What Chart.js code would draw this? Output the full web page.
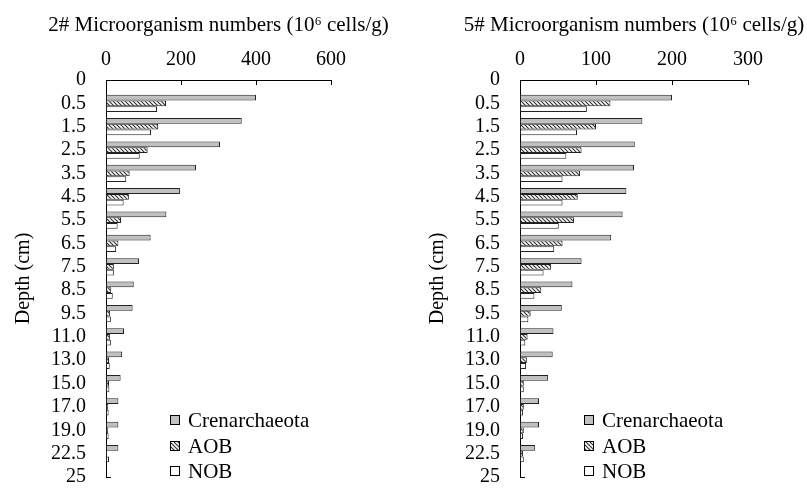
<!DOCTYPE html>
<html>
<head>
<meta charset="utf-8">
<script src="https://cdn.jsdelivr.net/npm/chart.js@4/dist/chart.umd.min.js"></script>
<style>
  body { margin: 0; background: #fff; }
  .box { position: absolute; top: 0; height: 488px; }
</style>
</head>
<body>
<div class="box" style="left:0;width:404px"><canvas id="chart2" width="404" height="488"></canvas></div>
<div class="box" style="left:404px;width:403px"><canvas id="chart5" width="403" height="488"></canvas></div>
<script>
// depth categories (cm)
var depthLabels = ["0", "0.5", "1.5", "2.5", "3.5", "4.5", "5.5", "6.5", "7.5", "8.5", "9.5", "11.0", "13.0", "15.0", "17.0", "19.0", "22.5", "25"];
var seriesNames = ["Crenarchaeota", "AOB", "NOB"];

// site 2# (10^6 cells/g)
var site2Cren = [null, 400, 362, 304, 240, 197, 161, 119, 88, 74, 71, 48, 43, 39, 33, 33, 33, null];
var site2AOB = [null, 160, 139, 111, 63, 61, 40, 33, 21, 14, 11, 11, 8, 8, 6, 6, 3, null];
var site2NOB = [null, 136, 120, 90, 54, 47, 31, 27, 21, 18, 13, 13, 10, 9, 7, 7, 8, null];

// site 5# (10^6 cells/g)
var site5Cren = [null, 200, 161, 151, 150, 140, 135, 120, 81, 69, 55, 44, 43, 37, 25, 25, 20, null];
var site5AOB = [null, 119, 100, 81, 79, 76, 71, 56, 41, 28, 14, 10, 9, 5, 5, 5, 4, null];
var site5NOB = [null, 88, 75, 61, 56, 56, 51, 45, 31, 19, 11, 7, 8, 5, 4, 4, 5, null];

var serifFont = "'Liberation Serif', 'Times New Roman', serif";
Chart.defaults.font.family = serifFont;
Chart.defaults.font.size = 20;
Chart.defaults.color = "#000";

// hatch for AOB bars ("\" stripes)
function makeHatch() {
  var c = document.createElement("canvas");
  c.width = 4; c.height = 4;
  var g = c.getContext("2d");
  g.fillStyle = "#fff";
  g.fillRect(0, 0, 4, 4);
  g.strokeStyle = "#333";
  g.lineWidth = 1.2;
  g.beginPath();
  g.moveTo(-1, -1); g.lineTo(5, 5);
  g.moveTo(3, -1); g.lineTo(5, 1);
  g.moveTo(-1, 3); g.lineTo(1, 5);
  g.stroke();
  return g.createPattern(c, "repeat");
}
var hatch = makeHatch();
var fills = ["#c0c0c0", hatch, "#ffffff"];

// title, small inside ticks on top axis, legend inside the plot
var insidePlugin = {
  id: "inside",
  afterDraw: function (chart, args, opts) {
    var ctx = chart.ctx, area = chart.chartArea, xs = chart.scales.x;
    ctx.save();
    ctx.strokeStyle = "#000";
    ctx.lineWidth = 1;
    ctx.beginPath();
    xs.ticks.forEach(function (t) {
      if (t.value === 0) return;
      var px = Math.round(xs.getPixelForValue(t.value)) + 0.5;
      ctx.moveTo(px, area.top);
      ctx.lineTo(px, area.top + 5);
    });
    ctx.moveTo(area.left, Math.round(area.bottom) + 0.5);
    ctx.lineTo(area.left + 5, Math.round(area.bottom) + 0.5);
    ctx.stroke();

    ctx.fillStyle = "#000";
    ctx.font = "21px " + serifFont;
    ctx.textAlign = "center";
    ctx.textBaseline = "middle";
    ctx.fillText(opts.title, (area.left + area.right) / 2, 25);

    ctx.textAlign = "left";
    ctx.font = "21px " + serifFont;
    var rows = [57, 31, 6];
    chart.data.datasets.forEach(function (ds, i) {
      var bx = area.left + 64, by = area.bottom - rows[i];
      ctx.fillStyle = ds.backgroundColor;
      ctx.fillRect(bx, by - 5, 10, 10);
      ctx.strokeStyle = "#000";
      ctx.strokeRect(bx + 0.5, by - 4.5, 9, 9);
      ctx.fillStyle = "#000";
      ctx.fillText(ds.label, bx + 18, by + 1);
    });
    ctx.restore();
  }
};

function makeChart(id, title, cren, aob, nob, maxX, step, padLeft, padRight) {
  var series = [cren, aob, nob];
  return new Chart(document.getElementById(id), {
    type: "bar",
    data: {
      labels: depthLabels,
      datasets: series.map(function (vals, i) {
        return {
          label: seriesNames[i],
          data: vals,
          backgroundColor: fills[i],
          borderColor: "#222",
          borderWidth: 1,
          borderSkipped: false,
          categoryPercentage: 0.74,
          barPercentage: 1.0
        };
      })
    },
    options: {
      indexAxis: "y",
      responsive: false,
      animation: false,
      layout: { padding: { left: padLeft, right: padRight, top: 0, bottom: 0 } },
      plugins: { legend: { display: false }, tooltip: { enabled: false }, inside: { title: title } },
      scales: {
        x: {
          position: "top",
          min: 0,
          max: maxX,
          ticks: { stepSize: step, padding: 8 },
          grid: { display: false, drawTicks: false },
          border: { display: true, color: "#000", width: 1 },
          afterFit: function (s) { s.height = 80; }
        },
        y: {
          offset: false,
          ticks: { padding: 20, autoSkip: false },
          grid: { display: false, drawTicks: false, offset: false },
          border: { display: true, color: "#000", width: 1 },
          title: { display: true, text: "Depth (cm)", padding: { top: 12, bottom: 0 } },
          afterFit: function (s) { s.width = 106; s.paddingTop = 0; s.paddingBottom = 11; }
        }
      }
    },
    plugins: [insidePlugin]
  });
}

makeChart("chart2", "2# Microorganism numbers (10\u2076 cells/g)", site2Cren, site2AOB, site2NOB, 600, 200, 0, 73);
makeChart("chart5", "5# Microorganism numbers (10\u2076 cells/g)", site5Cren, site5AOB, site5NOB, 300, 100, 10, 59);
</script>
</body>
</html>
